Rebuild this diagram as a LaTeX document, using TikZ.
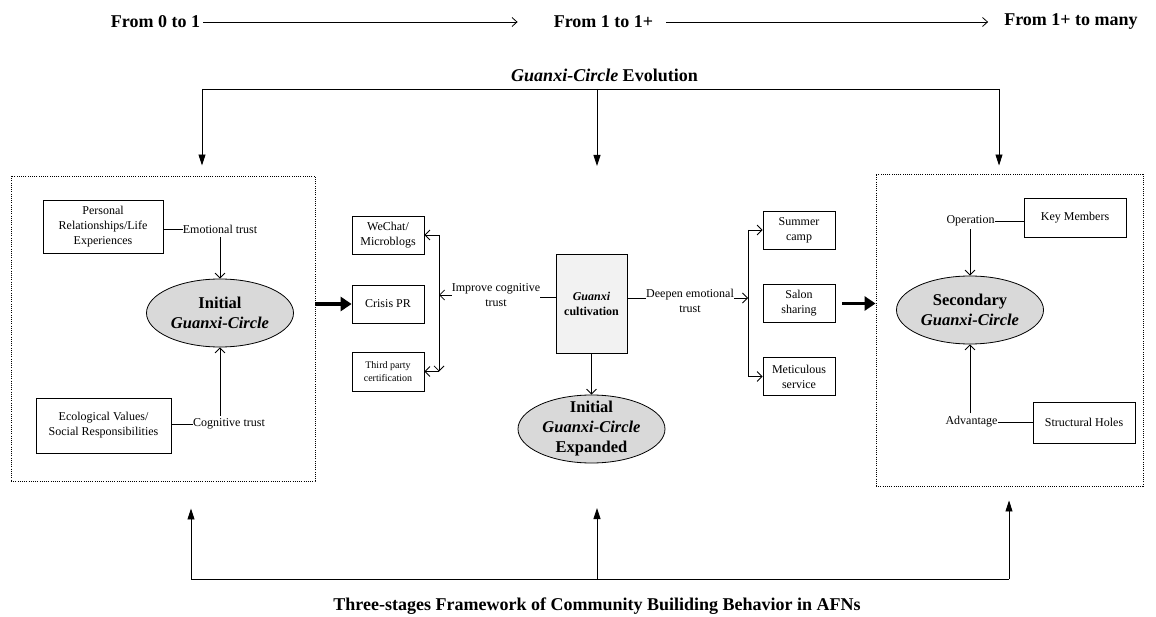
\documentclass[tikz,border=0pt]{standalone}
\usepackage{fontspec}
\setmainfont{Liberation Serif}
\usetikzlibrary{shapes.geometric,arrows.meta}
\newcommand{\fsz}[2]{\fontsize{#1}{#2}\selectfont}
\definecolor{ellfill}{HTML}{D9D9D9}
\definecolor{boxfill}{HTML}{F2F2F2}
\tikzset{
  box/.style={draw, line width=0.8pt, inner sep=0pt, align=center, font=\fsz{12}{15}},
  circ/.style={ellipse, draw, line width=0.8pt, fill=ellfill, minimum width=147pt, minimum height=68pt,
    inner xsep=0pt, inner ysep=-14pt, align=center, font=\bfseries\fsz{16.5}{20}},
  lbl/.style={inner sep=0pt, align=center, font=\fsz{12}{15}},
  title/.style={inner sep=0pt, font=\bfseries\fsz{18}{22}},
  arr/.style={-{Straight Barb[length=5pt,width=10pt]}, line width=0.8pt},
  ln/.style={line width=0.8pt},
  toparr/.style={-{Straight Barb[length=5pt,width=9pt]}, line width=0.8pt},
  thickarr/.style={-{Triangle[length=11pt,width=14pt]}, line width=3.5pt},
  fatarr/.style={-{Triangle[length=11pt,width=7pt]}, line width=0.9pt},
  dotbox/.style={draw, line width=0.9pt, dash pattern=on 1pt off 1.2pt, inner sep=0pt},
}
\begin{document}
\begin{tikzpicture}[x=1pt,y=-1pt]
\useasboundingbox (0,0) rectangle (1156,617);

% top row
\node[title] (t1) at (155.5,22) {From 0 to 1};
\node[title] (t2) at (603.5,22) {From 1 to 1+};
\node[title] (t3) at (1071,22) {From 1+ to many};
\draw[toparr] ([xshift=3pt]t1.east) -- ([xshift=-36pt]t2.west);
\draw[toparr] ([xshift=13pt]t2.east) -- ([xshift=-16pt]t3.west);

\node[title] (evo) at (604.5,75) {\textit{Guanxi-Circle} Evolution};

% dotted boxes
\node[dotbox, minimum width=304pt, minimum height=305pt] (lb) at (163,328.5) {};
\node[dotbox, minimum width=267pt, minimum height=312pt] (rb) at (1009.5,330) {};

% top bracket
\coordinate (tl) at (202,89);
\coordinate (tm) at (597,89);
\coordinate (tr) at (999,89);
\coordinate (tmend) at (597,166);
\draw[ln] (tl) -- (tr);
\draw[fatarr] (tl) -- ([yshift=10pt]tl |- lb.north);
\draw[fatarr] (tm) -- (tmend);
\draw[fatarr] (tr) -- ([yshift=8pt]tr |- rb.north);

% bottom bracket
\coordinate (bl) at (191,579);
\coordinate (bm) at (597,579);
\coordinate (br) at (1009,579);
\coordinate (bmend) at (597,508);
\draw[ln] (bl) -- (br);
\draw[fatarr] (bl) -- ([yshift=-27pt]bl |- lb.south);
\draw[fatarr] (bm) -- (bmend);
\draw[fatarr] (br) -- ([yshift=-14pt]br |- rb.south);
\node[title] (bt) at (597,606) {Three-stages Framework of Community Builiding Behavior in AFNs};

% left stage
\node[box, minimum width=120pt, minimum height=53pt] (p1) at (103,226.5) {Personal\\Relationships/Life\\Experiences};
\node[lbl] (emo) at (220,229) {Emotional trust};
\node[circ] (e1) at (220,313) {Initial\\\textit{Guanxi-Circle}};
\node[box, minimum width=135pt, minimum height=55pt] (p2) at (103.5,425.5) {Ecological Values/\\Social Responsibilities};
\node[lbl] (cog) at (229,424) {Cognitive trust};
\draw[ln] (p1.east |- emo.west) -- (emo.west);
\draw[arr] ([yshift=-4pt]emo.south) -- (e1.north);
\draw[ln] (p2.east |- cog.west) -- (cog.west);
\draw[arr] ([yshift=3pt]cog.north -| e1.south) -- (e1.south);

% middle stage
\node[box, minimum width=72pt, minimum height=38pt] (wc) at (388,235) {WeChat/\\Microblogs};
\node[box, minimum width=72pt, minimum height=38pt] (cpr) at (388,304) {Crisis PR};
\node[box, minimum width=72pt, minimum height=39pt, font=\fsz{10}{13}] (tpc) at (388,371.5) {Third party\\certification};
\draw[thickarr] (lb.east |- cpr.west) -- (cpr.west);

\node[box, fill=boxfill, minimum width=71pt, minimum height=99pt] (gc) at (591.5,303.5) {\textbf{\textit{Guanxi}}\\\textbf{cultivation}};
\node[lbl] (imp) at (496,295) {Improve cognitive\\trust};
\coordinate (lvx) at (439,0);
\draw[ln] (gc.west |- 0,297) -- (imp.east |- 0,297);
\draw[arr] (imp.west) -- (imp.west -| lvx);
\draw[arr] (wc.east -| lvx) -- (tpc.east -| lvx);
\draw[arr] (tpc.east -| lvx) -- (tpc.east);
\draw[arr] (lvx |- wc.east) -- (wc.east);

\node[circ] (e2) at (591.5,429) {Initial\\\textit{Guanxi-Circle}\\Expanded};
\draw[arr] (gc.south) -- (e2.north);

\node[box, minimum width=72pt, minimum height=38pt] (sc) at (799,230) {Summer\\camp};
\node[box, minimum width=72pt, minimum height=38pt] (ss) at (799,303.5) {Salon\\sharing};
\node[box, minimum width=72pt, minimum height=38pt] (ms) at (799,376.5) {Meticulous\\service};
\node[lbl] (dee) at (690,301) {Deepen emotional\\trust};
\coordinate (rvx) at (748,0);
\draw[ln] (gc.east |- 0,298) -- (dee.west |- 0,298);
\draw[arr] (dee.east |- 0,298) -- (rvx |- 0,298);
\draw[ln] (rvx |- sc.west) -- (rvx |- ms.west);
\draw[arr] (rvx |- sc.west) -- (sc.west);
\draw[arr] (rvx |- ms.west) -- (ms.west);
\draw[thickarr] ([xshift=7pt]ss.east) -- (rb.west |- ss.east);

% right stage
\node[circ] (e3) at (970,310) {Secondary\\\textit{Guanxi-Circle}};
\node[box, minimum width=102pt, minimum height=39pt] (km) at (1075,217.5) {Key Members};
\node[lbl] (op) at (970.5,221) {Operation};
\node[box, minimum width=102pt, minimum height=41pt] (sh) at (1084,422.5) {Structural Holes};
\node[lbl] (adv) at (971.5,422) {Advantage};
\draw[ln] (op.east) -- (km.west |- op.east);
\draw[arr] ([yshift=-3pt]op.south -| e3.north) -- (e3.north);
\draw[ln] (adv.east) -- (sh.west |- adv.east);
\draw[arr] ([yshift=3pt]adv.north -| e3.south) -- (e3.south);
\end{tikzpicture}
\end{document}
